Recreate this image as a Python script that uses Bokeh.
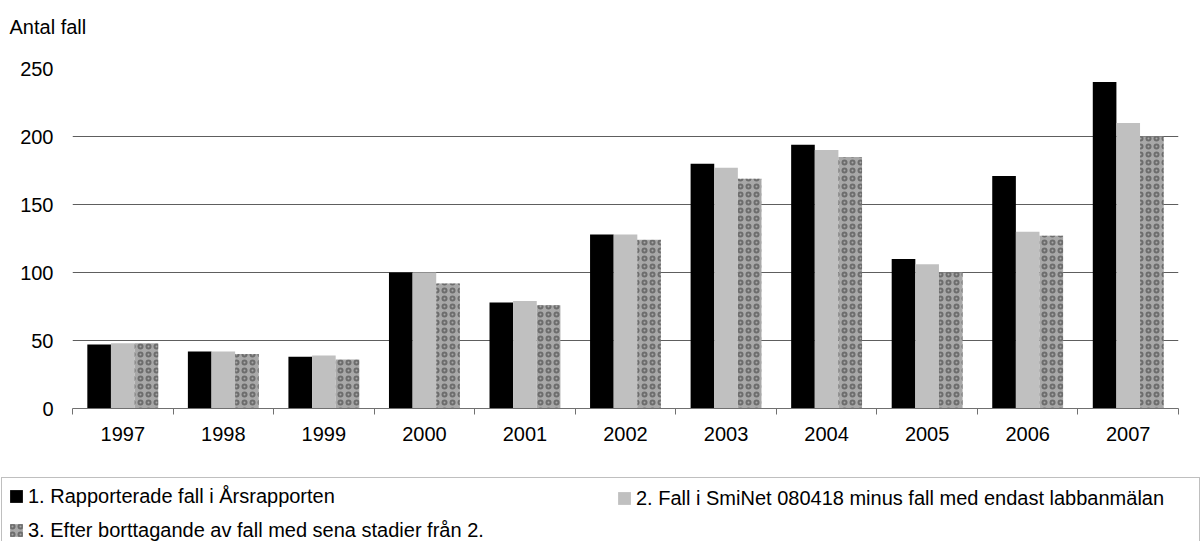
from bokeh.plotting import figure
from bokeh.models import Range1d, FixedTicker, Legend, LegendItem, Label, ColumnDataSource
from bokeh.layouts import column
from bokeh.transform import dodge
from bokeh.embed import file_html
from bokeh.resources import INLINE

# ---------------- data ----------------
years = [1997, 1998, 1999, 2000, 2001, 2002, 2003, 2004, 2005, 2006, 2007]
reported = [47, 42, 38, 100, 78, 128, 180, 194, 110, 171, 240]
sminet = [48, 42, 39, 100, 79, 128, 177, 190, 106, 130, 210]
after_removal = [48, 40, 36, 92, 76, 124, 169, 185, 100, 127, 200]
series_labels = [
    "1. Rapporterade fall i Årsrapporten",
    "2. Fall i SmiNet 080418 minus fall med endast labbanmälan",
    "3. Efter borttagande av fall med sena stadier från 2.",
]
y_ticks = [0, 50, 100, 150, 200, 250]
y_title = "Antal fall"

# ---------------- styling ----------------
FONT = "Liberation Sans"
FS = "20px"
W = 1201
H_TOP, H_MAIN, H_LEG = 46, 414, 81
BAR_W = 0.235
GRID = "#5e5e5e"
AXIS = "#707070"
STYLE_1 = dict(fill_color="#000000", line_color=None)
STYLE_2 = dict(fill_color="#c0c0c0", line_color=None)
STYLE_3 = dict(fill_color="#a8a8a8", line_color=None, hatch_pattern="ring",
               hatch_color="#5a5a5a", hatch_scale=8, hatch_weight=2, hatch_alpha=0.75)

src = ColumnDataSource(dict(year=years, reported=reported, sminet=sminet, after=after_removal))


def strip(height):
    f = figure(width=W, height=height, output_backend="svg", toolbar_location=None,
               x_range=Range1d(0, W), y_range=Range1d(0, height),
               x_axis_location=None, y_axis_location=None,
               min_border_left=0, min_border_right=0, min_border_top=0, min_border_bottom=0)
    f.outline_line_color = None
    f.grid.visible = False
    f.background_fill_color = "white"
    f.border_fill_color = "white"
    f.frame_align = False
    return f


# ---------------- top strip: axis caption ----------------
pt = strip(H_TOP)
pt.add_layout(Label(x=9, y=H_TOP - 26, text=y_title, text_font=FONT, text_font_size=FS,
                    text_color="#000000", text_baseline="middle", text_align="left"))

# ---------------- main chart ----------------
p = figure(width=W, height=H_MAIN, output_backend="svg", toolbar_location=None,
           x_range=Range1d(years[0] - 0.5, years[-1] + 0.5),
           y_range=Range1d(y_ticks[0], y_ticks[-1]),
           min_border_left=72, min_border_right=23, min_border_top=22, min_border_bottom=52)
p.outline_line_color = None
p.background_fill_color = "white"
p.border_fill_color = "white"
p.frame_align = False

p.vbar(x=dodge("year", -BAR_W, range=p.x_range), top="reported", width=BAR_W, source=src, **STYLE_1)
p.vbar(x="year", top="sminet", width=BAR_W, source=src, **STYLE_2)
p.vbar(x=dodge("year", BAR_W, range=p.x_range), top="after", width=BAR_W, source=src, **STYLE_3)

xa = p.xaxis[0]
xa.ticker = FixedTicker(ticks=years, minor_ticks=[y - 0.5 for y in years] + [years[-1] + 0.5])
xa.axis_line_color = AXIS
xa.major_tick_line_color = None
xa.major_tick_out = 0
xa.major_tick_in = 0
xa.minor_tick_line_color = AXIS
xa.minor_tick_in = 0
xa.minor_tick_out = 6
xa.major_label_text_font = FONT
xa.major_label_text_font_size = FS
xa.major_label_text_color = "#000000"
xa.major_label_standoff = 12

ya = p.yaxis[0]
ya.ticker = FixedTicker(ticks=y_ticks)
ya.axis_line_color = None
ya.major_tick_line_color = None
ya.minor_tick_line_color = None
ya.major_tick_out = 0
ya.major_tick_in = 0
ya.major_label_text_font = FONT
ya.major_label_text_font_size = FS
ya.major_label_text_color = "#000000"
ya.major_label_standoff = 19

p.xgrid.grid_line_color = None
p.ygrid.grid_line_color = GRID
p.ygrid.grid_line_width = 1

# ---------------- legend strip ----------------
pl = strip(H_LEG)
# legend swatch renderers (same data, lying outside this strip's visible range)
k1 = pl.vbar(x="year", top="reported", width=BAR_W, source=src, **STYLE_1)
k2 = pl.vbar(x="year", top="sminet", width=BAR_W, source=src, **STYLE_2)
k3 = pl.vbar(x="year", top="after", width=BAR_W, source=src, **STYLE_3)

common = dict(orientation="vertical", glyph_width=16, glyph_height=16, label_height=24,
              label_standoff=4, label_text_font=FONT, label_text_font_size=FS,
              label_text_color="#000000", margin=0, padding=6, spacing=10)

legA = Legend(items=[LegendItem(label=series_labels[0], renderers=[k1]),
                     LegendItem(label=series_labels[2], renderers=[k3])],
              location=(1, -8), label_width=1165,
              border_line_color="#808080", border_line_width=1,
              background_fill_color="white", background_fill_alpha=1, **common)
legB = Legend(items=[LegendItem(label=series_labels[1], renderers=[k2])],
              location=(616, 31), label_width=10,
              border_line_color=None, background_fill_alpha=0, **common)
pl.add_layout(legA, "center")
pl.add_layout(legB, "center")

layout = column(pt, p, pl, spacing=0)
open("out.html", "w").write(file_html(layout, INLINE))
